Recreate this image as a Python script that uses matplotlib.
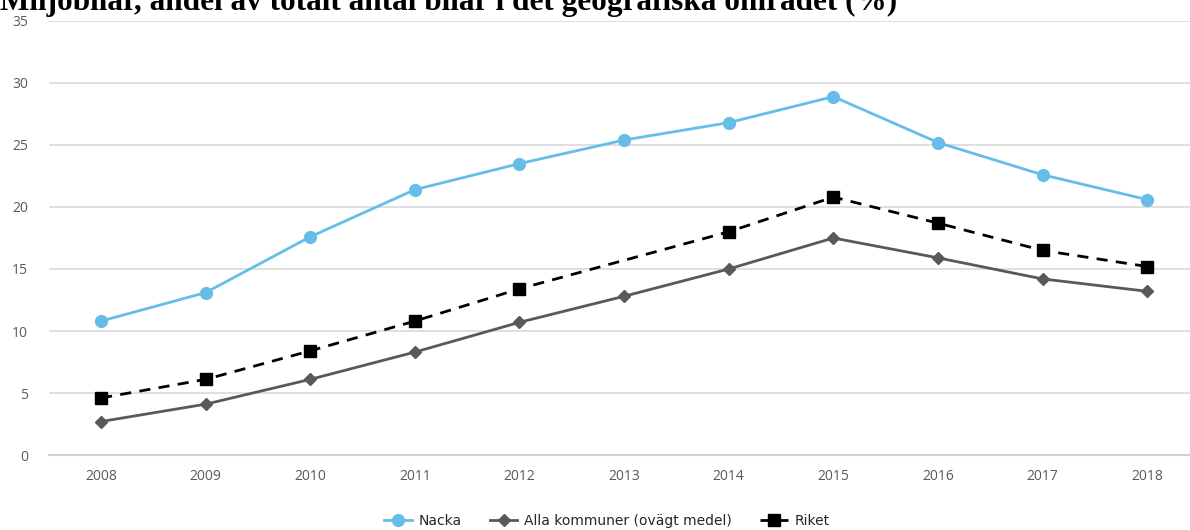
import matplotlib
matplotlib.use("Agg")
import matplotlib.pyplot as plt

years = ["2008", "2009", "2010", "2011", "2012", "2013", "2014", "2015", "2016", "2017", "2018"]
nacka = [10.8, 13.1, 17.6, 21.4, 23.5, 25.4, 26.8, 28.9, 25.2, 22.6, 20.6]
alla_kommuner = [2.7, 4.1, 6.1, 8.3, 10.7, 12.8, 15.0, 17.5, 15.9, 14.2, 13.2]
riket = [4.6, 6.1, 8.4, 10.8, 13.4, 15.7, 18.0, 20.8, 18.7, 16.5, 15.2]
riket_marked = [0, 1, 2, 3, 4, 6, 7, 8, 9, 10]  # no marker for 2013

title = "Miljöbilar, andel av totalt antal bilar i det geografiska området (%)"
labels = ["Nacka", "Alla kommuner (ovägt medel)", "Riket"]
yticks = [0, 5, 10, 15, 20, 25, 30, 35]

plt.rcParams["font.family"] = ["Open Sans", "DejaVu Sans"]

fig = plt.figure(figsize=(11.9, 5.3), dpi=100)
ax = fig.add_axes([0.041, 0.1415, 0.959, 0.8189])

x = list(range(len(years)))
ax.plot(x, nacka, color="#65bde8", lw=2.0, marker="o", markersize=8.5,
        label=labels[0], zorder=3)
ax.plot(x, alla_kommuner, color="#595959", lw=2.0, marker="D", markersize=6.5,
        label=labels[1], zorder=3)
ax.plot(x, riket, color="black", lw=2.0, ls=(0, (4, 3)), marker="s", markersize=8,
        markevery=riket_marked, label=labels[2], zorder=3)

ax.set_xlim(-0.5, 10.41)
ax.set_ylim(0, 35)
ax.set_xticks(x)
ax.set_xticklabels(years)
ax.set_yticks(yticks)
ax.tick_params(axis="both", length=0, labelsize=10, colors="#595959")
ax.tick_params(axis="y", pad=15)
ax.tick_params(axis="x", pad=10)
ax.grid(axis="y", color="#d9d9d9", lw=1.2)
ax.set_axisbelow(True)
for s in ["top", "right", "left"]:
    ax.spines[s].set_visible(False)
ax.spines["bottom"].set_color("#c9d3df")
ax.spines["bottom"].set_linewidth(1.5)

fig.text(0.0, 0.981, title, family="Liberation Serif", fontweight="bold",
         fontsize=22.5, ha="left", va="baseline", color="black")

fig.legend(loc="lower center", bbox_to_anchor=(0.51, -0.02), ncol=3, frameon=False,
           prop={"family": "DejaVu Sans", "size": 10}, handlelength=2.0,
           handletextpad=0.5, columnspacing=2.0, labelcolor="#262626")

fig.savefig("out.png", dpi=100)
